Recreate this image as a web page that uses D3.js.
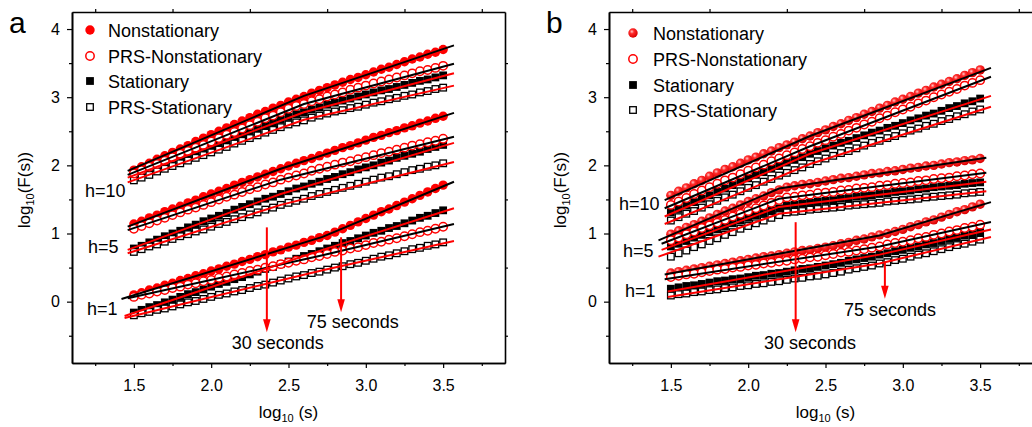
<!DOCTYPE html>
<html><head><meta charset="utf-8">
<script src="https://cdn.jsdelivr.net/npm/d3@7"></script>
<style>
body{margin:0;background:#fff}
svg{display:block}
text{font-family:"Liberation Sans",Arial,Helvetica,sans-serif;fill:#000}
</style>
</head><body>
<svg id="c" width="1032" height="427"></svg>
<script>
// ---------- data ----------
const logS = [1.50,1.55,1.60,1.65,1.70,1.75,1.80,1.85,1.90,1.95,2.00,2.05,2.10,2.15,2.20,2.25,2.30,2.35,2.40,2.45,2.50,2.55,2.60,2.65,2.70,2.75,2.80,2.85,2.90,2.95,3.00,3.05,3.10,3.15,3.20,3.25,3.30,3.35,3.40,3.45,3.50];
const seriesNames = ["Nonstationary","PRS-Nonstationary","Stationary","PRS-Stationary"];
const hLabels = ["h=10","h=5","h=1"];
const xTicks = [1.5,2.0,2.5,3.0,3.5];
const yTicks = [0,1,2,3,4];

// panel a
const a_Nonst_h10 = [1.93,1.98,2.03,2.09,2.14,2.19,2.24,2.29,2.35,2.40,2.45,2.50,2.55,2.60,2.65,2.70,2.75,2.79,2.84,2.88,2.93,2.97,3.01,3.06,3.10,3.14,3.18,3.22,3.26,3.29,3.33,3.37,3.41,3.44,3.48,3.52,3.56,3.59,3.63,3.66,3.70];
const a_PRSNonst_h10 = [1.88,1.93,1.98,2.02,2.07,2.12,2.17,2.21,2.26,2.30,2.35,2.40,2.45,2.49,2.54,2.59,2.64,2.69,2.73,2.78,2.83,2.87,2.90,2.94,2.97,3.01,3.04,3.07,3.11,3.14,3.17,3.20,3.23,3.26,3.29,3.32,3.35,3.38,3.40,3.43,3.46];
const a_Stat_h10 = [1.85,1.89,1.94,1.98,2.03,2.07,2.11,2.15,2.20,2.24,2.28,2.32,2.37,2.41,2.46,2.50,2.54,2.58,2.63,2.67,2.71,2.75,2.78,2.82,2.85,2.89,2.92,2.95,2.98,3.01,3.04,3.07,3.10,3.12,3.15,3.18,3.21,3.24,3.26,3.29,3.32];
const a_PRSStat_h10 = [1.78,1.82,1.86,1.91,1.95,1.99,2.03,2.07,2.11,2.15,2.19,2.23,2.27,2.32,2.36,2.40,2.44,2.48,2.52,2.56,2.60,2.63,2.66,2.70,2.73,2.76,2.79,2.81,2.84,2.86,2.89,2.92,2.94,2.97,2.99,3.02,3.04,3.07,3.09,3.12,3.14];
const a_Nonst_h5 = [1.14,1.18,1.23,1.27,1.32,1.36,1.40,1.45,1.49,1.54,1.58,1.62,1.66,1.71,1.75,1.79,1.83,1.87,1.91,1.95,1.99,2.03,2.07,2.10,2.14,2.18,2.22,2.26,2.29,2.33,2.37,2.41,2.44,2.48,2.51,2.55,2.58,2.62,2.65,2.69,2.72];
const a_PRSNonst_h5 = [1.07,1.11,1.15,1.19,1.23,1.27,1.31,1.35,1.38,1.42,1.46,1.50,1.54,1.57,1.61,1.65,1.68,1.72,1.75,1.79,1.82,1.85,1.88,1.92,1.95,1.98,2.01,2.04,2.06,2.09,2.12,2.15,2.18,2.20,2.23,2.26,2.29,2.31,2.34,2.36,2.39];
const a_Stat_h5 = [0.78,0.82,0.87,0.91,0.96,1.00,1.04,1.09,1.13,1.18,1.22,1.26,1.30,1.35,1.39,1.43,1.47,1.51,1.54,1.58,1.62,1.66,1.69,1.73,1.76,1.80,1.83,1.87,1.90,1.94,1.97,2.00,2.04,2.07,2.11,2.14,2.17,2.20,2.24,2.27,2.30];
const a_PRSStat_h5 = [0.73,0.77,0.81,0.84,0.88,0.92,0.96,0.99,1.03,1.06,1.10,1.14,1.17,1.21,1.24,1.28,1.31,1.35,1.38,1.42,1.45,1.48,1.51,1.55,1.58,1.61,1.64,1.67,1.70,1.73,1.76,1.79,1.82,1.84,1.87,1.90,1.93,1.95,1.98,2.00,2.03];
const a_Nonst_h1 = [0.10,0.13,0.17,0.20,0.24,0.27,0.31,0.34,0.38,0.41,0.45,0.48,0.52,0.55,0.59,0.62,0.66,0.69,0.73,0.76,0.80,0.83,0.87,0.90,0.94,0.97,1.02,1.07,1.12,1.17,1.22,1.27,1.32,1.36,1.41,1.46,1.51,1.56,1.61,1.66,1.71];
const a_PRSNonst_h1 = [0.07,0.10,0.12,0.15,0.17,0.20,0.22,0.25,0.27,0.30,0.32,0.35,0.37,0.40,0.42,0.45,0.47,0.50,0.52,0.55,0.57,0.60,0.62,0.65,0.67,0.70,0.73,0.75,0.78,0.80,0.83,0.86,0.88,0.91,0.93,0.96,0.99,1.02,1.04,1.07,1.10];
const a_Stat_h1 = [-0.16,-0.12,-0.08,-0.05,-0.01,0.03,0.07,0.11,0.14,0.18,0.22,0.26,0.29,0.33,0.36,0.40,0.44,0.48,0.51,0.55,0.59,0.63,0.67,0.70,0.74,0.78,0.82,0.86,0.89,0.93,0.97,1.01,1.04,1.08,1.11,1.15,1.19,1.23,1.26,1.30,1.34];
const a_PRSStat_h1 = [-0.20,-0.17,-0.15,-0.12,-0.10,-0.07,-0.04,-0.01,0.01,0.04,0.07,0.10,0.12,0.15,0.17,0.20,0.23,0.25,0.28,0.31,0.34,0.37,0.39,0.42,0.44,0.47,0.50,0.52,0.55,0.57,0.60,0.63,0.66,0.68,0.71,0.74,0.77,0.79,0.82,0.84,0.87];

// panel b
const b_Nonst_h10 = [1.56,1.62,1.67,1.73,1.78,1.84,1.89,1.94,1.98,2.03,2.08,2.12,2.17,2.21,2.26,2.30,2.34,2.39,2.43,2.48,2.52,2.57,2.61,2.66,2.70,2.75,2.79,2.84,2.88,2.93,2.97,3.01,3.06,3.10,3.15,3.19,3.23,3.27,3.32,3.36,3.40];
const b_PRSNonst_h10 = [1.42,1.47,1.52,1.58,1.63,1.68,1.73,1.78,1.82,1.87,1.92,1.97,2.01,2.06,2.10,2.15,2.19,2.24,2.28,2.33,2.37,2.42,2.46,2.51,2.55,2.60,2.64,2.69,2.73,2.78,2.82,2.86,2.91,2.95,3.00,3.04,3.08,3.12,3.17,3.21,3.25];
const b_Stat_h10 = [1.31,1.36,1.41,1.46,1.51,1.56,1.61,1.66,1.71,1.76,1.81,1.86,1.90,1.95,1.99,2.04,2.08,2.12,2.17,2.21,2.25,2.29,2.33,2.36,2.40,2.44,2.48,2.51,2.55,2.58,2.62,2.66,2.69,2.73,2.76,2.80,2.84,2.87,2.91,2.94,2.98];
const b_PRSStat_h10 = [1.19,1.24,1.29,1.33,1.38,1.43,1.48,1.53,1.57,1.62,1.67,1.71,1.76,1.80,1.85,1.89,1.93,1.97,2.02,2.06,2.10,2.14,2.18,2.21,2.25,2.29,2.33,2.36,2.40,2.43,2.47,2.51,2.54,2.58,2.61,2.65,2.68,2.72,2.75,2.79,2.82];
const b_Nonst_h5 = [0.99,1.04,1.09,1.13,1.18,1.23,1.28,1.33,1.37,1.42,1.47,1.51,1.55,1.60,1.64,1.68,1.70,1.72,1.73,1.75,1.77,1.79,1.81,1.82,1.84,1.86,1.88,1.89,1.91,1.92,1.94,1.96,1.97,1.99,2.00,2.02,2.04,2.05,2.07,2.08,2.10];
const b_PRSNonst_h5 = [0.90,0.94,0.99,1.03,1.08,1.12,1.16,1.20,1.25,1.29,1.33,1.37,1.41,1.45,1.49,1.53,1.54,1.56,1.57,1.59,1.60,1.61,1.63,1.64,1.66,1.67,1.68,1.70,1.71,1.73,1.74,1.75,1.77,1.78,1.80,1.81,1.82,1.84,1.85,1.87,1.88];
const b_Stat_h5 = [0.81,0.85,0.89,0.94,0.98,1.02,1.06,1.10,1.15,1.19,1.23,1.27,1.30,1.34,1.37,1.41,1.42,1.44,1.45,1.47,1.48,1.49,1.51,1.52,1.54,1.55,1.56,1.58,1.59,1.61,1.62,1.63,1.65,1.66,1.68,1.69,1.70,1.71,1.73,1.74,1.75];
const b_PRSStat_h5 = [0.66,0.71,0.75,0.80,0.84,0.89,0.93,0.98,1.02,1.07,1.11,1.15,1.19,1.23,1.27,1.31,1.32,1.33,1.35,1.36,1.37,1.38,1.39,1.41,1.42,1.43,1.44,1.45,1.47,1.48,1.49,1.50,1.51,1.53,1.54,1.55,1.56,1.57,1.59,1.60,1.61];
const b_Nonst_h1 = [0.42,0.44,0.46,0.48,0.50,0.52,0.54,0.56,0.58,0.60,0.62,0.64,0.66,0.67,0.69,0.71,0.73,0.75,0.76,0.78,0.80,0.82,0.85,0.87,0.90,0.92,0.95,0.98,1.00,1.03,1.06,1.10,1.13,1.17,1.20,1.24,1.28,1.32,1.35,1.39,1.43];
const b_PRSNonst_h1 = [0.36,0.38,0.40,0.41,0.43,0.45,0.47,0.48,0.50,0.51,0.53,0.54,0.56,0.57,0.59,0.60,0.62,0.63,0.65,0.66,0.68,0.70,0.72,0.73,0.75,0.77,0.79,0.81,0.84,0.86,0.88,0.90,0.93,0.95,0.98,1.00,1.03,1.05,1.08,1.10,1.13];
const b_Stat_h1 = [0.19,0.21,0.23,0.24,0.26,0.28,0.30,0.31,0.33,0.34,0.36,0.38,0.39,0.41,0.42,0.44,0.46,0.48,0.49,0.51,0.53,0.55,0.57,0.60,0.62,0.64,0.66,0.69,0.71,0.74,0.76,0.79,0.81,0.84,0.86,0.89,0.92,0.94,0.97,0.99,1.02];
const b_PRSStat_h1 = [0.09,0.11,0.12,0.14,0.15,0.17,0.18,0.20,0.21,0.23,0.24,0.26,0.27,0.29,0.30,0.32,0.34,0.35,0.37,0.38,0.40,0.42,0.44,0.47,0.49,0.51,0.53,0.56,0.58,0.61,0.63,0.66,0.69,0.71,0.74,0.77,0.80,0.83,0.85,0.88,0.91];

// two-segment fits: [x, y] at start, crossover, end  (order: Nonst, PRS-Nonst, Stat, PRS-Stat)
const a_fit_h10 = [[[1.46,1.92],[2.6,3.02],[3.57,3.76]],[[1.46,1.86],[2.6,2.90],[3.57,3.49]],[[1.46,1.82],[2.6,2.78],[3.57,3.35]],[[1.46,1.75],[2.6,2.67],[3.57,3.17]]];
const a_fit_h5  = [[[1.46,1.10],[2.45,1.95],[3.57,2.77]],[[1.46,1.05],[2.45,1.79],[3.57,2.42]],[[1.46,0.76],[2.45,1.58],[3.57,2.33]],[[1.46,0.71],[2.45,1.42],[3.57,2.05]]];
const a_fit_h1  = [[[1.42,0.04],[2.72,0.95],[3.57,1.76]],[[1.46,0.05],[2.72,0.68],[3.57,1.14]],[[1.44,-0.21],[2.72,0.76],[3.57,1.37]],[[1.44,-0.24],[2.72,0.46],[3.57,0.89]]];
const b_fit_h10 = [[[1.46,1.49],[2.4,2.43],[3.57,3.43]],[[1.46,1.37],[2.4,2.28],[3.57,3.30]],[[1.46,1.25],[2.4,2.17],[3.57,3.02]],[[1.46,1.14],[2.4,2.02],[3.57,2.86]]];
const b_fit_h5  = [[[1.42,0.90],[2.2,1.66],[3.54,2.11]],[[1.44,0.85],[2.2,1.51],[3.54,1.89]],[[1.44,0.76],[2.2,1.39],[3.54,1.76]],[[1.42,0.66],[2.2,1.29],[3.54,1.62]]];
const b_fit_h1  = [[[1.46,0.40],[2.85,0.97],[3.57,1.46]],[[1.46,0.33],[2.85,0.81],[3.57,1.17]],[[1.48,0.15],[2.85,0.69],[3.57,1.06]],[[1.48,0.07],[2.85,0.56],[3.57,0.95]]];

// annotations: [label, arrow x, arrow top y, arrow tip y, label x, label baseline y]
const a_arrows = [["30 seconds",2.36,1.09,-0.45,2.43,-0.70],["75 seconds",2.84,0.945,-0.157,2.915,-0.38]];
const b_arrows = [["30 seconds",2.307,1.166,-0.45,2.40,-0.70],["75 seconds",2.884,0.578,0.044,2.917,-0.21]];

// ---------- drawing ----------
const svg = d3.select("#c");
const defs = svg.append("defs");
const grad = defs.append("radialGradient").attr("id","ball").attr("cx","38%").attr("cy","35%").attr("r","65%");
grad.append("stop").attr("offset","0%").attr("stop-color","#ffc8c8");
grad.append("stop").attr("offset","35%").attr("stop-color","#ff2a2a");
grad.append("stop").attr("offset","100%").attr("stop-color","#d80000");

const RED = "#ff0000";
const panels = [
  {label:"a", left:72, ball:false,
   groups:[[a_Nonst_h10,a_PRSNonst_h10,a_Stat_h10,a_PRSStat_h10],[a_Nonst_h5,a_PRSNonst_h5,a_Stat_h5,a_PRSStat_h5],[a_Nonst_h1,a_PRSNonst_h1,a_Stat_h1,a_PRSStat_h1]],
   fits:[a_fit_h10,a_fit_h5,a_fit_h1], arrows:a_arrows,
   hPos:[[85,197],[88,253],[87,315]], legend:{mx:90, tx:108, rows:[30,56,81,107]}, titleX:30, labelX:9},
  {label:"b", left:609, ball:true,
   groups:[[b_Nonst_h10,b_PRSNonst_h10,b_Stat_h10,b_PRSStat_h10],[b_Nonst_h5,b_PRSNonst_h5,b_Stat_h5,b_PRSStat_h5],[b_Nonst_h1,b_PRSNonst_h1,b_Stat_h1,b_PRSStat_h1]],
   fits:[b_fit_h10,b_fit_h5,b_fit_h1], arrows:b_arrows,
   hPos:[[619,210],[623,257],[625,297]], legend:{mx:633, tx:653, rows:[33,59,85,110]}, titleX:566, labelX:546}
];

function drawMarker(sel, type, ball){
  if(type===0){
    sel.append("circle").attr("r",4.7).attr("fill", ball ? "url(#ball)" : RED);
  } else if(type===1){
    sel.append("circle").attr("r",4.2).attr("fill","#fff").attr("stroke",RED).attr("stroke-width",1.5);
  } else if(type===2){
    sel.append("rect").attr("x",-3.9).attr("y",-3.9).attr("width",7.8).attr("height",7.8).attr("fill","#000");
  } else {
    sel.append("rect").attr("x",-3.3).attr("y",-3.3).attr("width",6.6).attr("height",6.6).attr("fill","#fff").attr("stroke","#000").attr("stroke-width",1.3);
  }
}

panels.forEach(p=>{
  const g = svg.append("g");
  const x = d3.scaleLinear().domain([1.1,3.9]).range([p.left, p.left+433]);
  const y = d3.scaleLinear().domain([-0.9,4.25]).range([363,12]);
  const xMinor = [1.25,1.75,2.25,2.75,3.25,3.75];
  const yMinor = [-0.5,0.5,1.5,2.5,3.5];

  // axes
  const styleAxis = a => { a.select(".domain").attr("stroke","#000").attr("stroke-width",1.6);
    a.selectAll(".tick line").attr("stroke","#000").attr("stroke-width",1.2);
    a.selectAll("text").style("font-size","16px").attr("fill","#000"); };
  g.append("g").attr("transform","translate(0,363)")
    .call(d3.axisBottom(x).tickValues(xTicks).tickFormat(d3.format(".1f")).tickSize(5).tickSizeOuter(0).tickPadding(12)).call(styleAxis);
  g.append("g").attr("transform","translate(0,363)")
    .call(d3.axisBottom(x).tickValues(xMinor).tickFormat("").tickSize(3).tickSizeOuter(0)).call(styleAxis);
  g.append("g").attr("transform","translate(0,12)")
    .call(d3.axisTop(x).tickValues(xMinor).tickFormat("").tickSize(3).tickSizeOuter(0)).call(styleAxis);
  g.append("g").attr("transform",`translate(${p.left},0)`)
    .call(d3.axisLeft(y).tickValues(yTicks).tickFormat(d3.format("d")).tickSize(5).tickSizeOuter(0).tickPadding(7)).call(styleAxis);
  g.append("g").attr("transform",`translate(${p.left},0)`)
    .call(d3.axisLeft(y).tickValues(yMinor).tickFormat("").tickSize(3).tickSizeOuter(0)).call(styleAxis);
  g.append("g").attr("transform",`translate(${p.left+433},0)`)
    .call(d3.axisRight(y).tickValues(yMinor).tickFormat("").tickSize(3).tickSizeOuter(0)).call(styleAxis);

  // markers: Stat, PRS-Stat, Nonst, PRS-Nonst
  const order = [2,3,0,1];
  p.groups.forEach(grp=>{
    order.forEach(k=>{
      const vals = grp[k];
      logS.forEach((s,i)=>{
        const m = g.append("g").attr("transform",`translate(${x(s)},${y(vals[i])})`);
        drawMarker(m,k,p.ball);
      });
    });
  });
  // fit lines
  const line = d3.line().x(d=>x(d[0])).y(d=>y(d[1]));
  p.fits.forEach(fg=>{
    fg.forEach((f,k)=>{
      g.append("path").attr("d",line(f)).attr("fill","none")
        .attr("stroke", k<2 ? "#000" : RED).attr("stroke-width",2);
    });
  });

  // arrows
  p.arrows.forEach(a=>{
    const ax = x(a[1]), y1 = y(a[2]), y2 = y(a[3]);
    g.append("line").attr("x1",ax).attr("x2",ax).attr("y1",y1).attr("y2",y2-10)
      .attr("stroke",RED).attr("stroke-width",2);
    g.append("path").attr("d",`M${ax-3.8},${y2-13}L${ax+3.8},${y2-13}L${ax},${y2}Z`).attr("fill",RED);
    g.append("text").attr("x",x(a[4])).attr("y",y(a[5])).attr("text-anchor","middle")
      .style("font-size","18px").text(a[0]);
  });

  // h labels
  hLabels.forEach((h,i)=>{
    g.append("text").attr("x",p.hPos[i][0]).attr("y",p.hPos[i][1]).style("font-size","18px").text(h);
  });

  // legend
  seriesNames.forEach((n,k)=>{
    const ry = p.legend.rows[k];
    const m = g.append("g").attr("transform",`translate(${p.legend.mx},${ry})`);
    drawMarker(m,k,p.ball);
    g.append("text").attr("x",p.legend.tx).attr("y",ry+6.5).style("font-size","18px").text(n);
  });

  // axis titles
  const xt = g.append("text").attr("x",p.left+216.5).attr("y",418).attr("text-anchor","middle").style("font-size","17px");
  xt.append("tspan").text("log");
  xt.append("tspan").attr("dy",4).style("font-size","11px").text("10");
  xt.append("tspan").attr("dy",-4).text(" (s)");
  const yt = g.append("text").attr("transform",`translate(${p.titleX},190) rotate(-90)`).attr("text-anchor","middle").style("font-size","17px");
  yt.append("tspan").text("log");
  yt.append("tspan").attr("dy",4).style("font-size","11px").text("10");
  yt.append("tspan").attr("dy",-4).text("(F(s))");

  // panel label
  g.append("text").attr("x",p.labelX).attr("y",33).style("font-size","30px").text(p.label);
});
</script>
</body></html>
